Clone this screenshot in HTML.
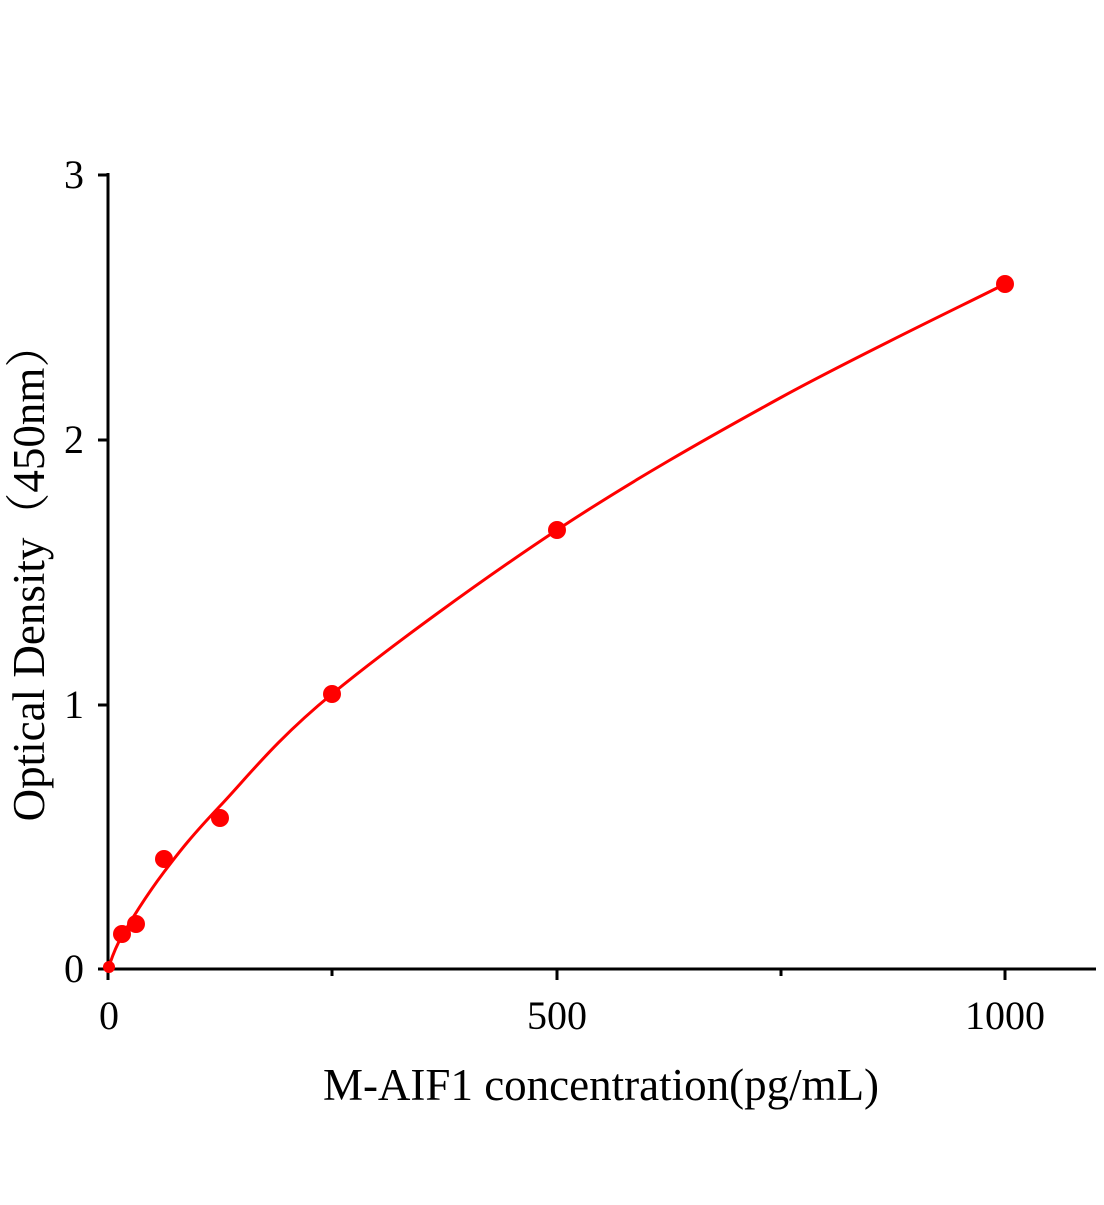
<!DOCTYPE html>
<html><head><style>
html,body{margin:0;padding:0;background:#fff;}
text{font-family:"Liberation Serif","Noto Serif CJK SC",serif;fill:#000;}
</style></head><body>
<svg id="s" width="1104" height="1200" viewBox="0 0 1104 1200" xmlns="http://www.w3.org/2000/svg">
<g stroke="#000" stroke-width="3" fill="none">
<line x1="108" y1="173" x2="108" y2="980"/>
<line x1="98" y1="969" x2="1096" y2="969"/>
<line x1="98" y1="175" x2="108" y2="175"/>
<line x1="98" y1="440" x2="108" y2="440"/>
<line x1="98" y1="705" x2="108" y2="705"/>
<line x1="557" y1="969" x2="557" y2="980"/>
<line x1="1005" y1="969" x2="1005" y2="980"/>
<line x1="332" y1="969" x2="332" y2="976"/>
<line x1="781" y1="969" x2="781" y2="976"/>
</g>
<g font-size="40" text-anchor="end">
<text x="84" y="188">3</text>
<text x="84" y="453">2</text>
<text x="84" y="718">1</text>
<text x="84" y="982">0</text>
</g>
<g font-size="40" text-anchor="middle">
<text x="109" y="1029">0</text>
<text x="557" y="1029">500</text>
<text x="1005" y="1029">1000</text>
</g>
<text x="601" y="1100" font-size="45" text-anchor="middle">M-AIF1 concentration(pg/mL)</text>
<text transform="translate(44,572) rotate(-90)" font-size="45" text-anchor="middle">Optical Density（450nm）</text>
<path id="c" fill="none" stroke="#f00" stroke-width="3"/>
<g fill="#f00">
<circle cx="109" cy="967" r="6"/>
<circle cx="122" cy="934" r="9"/>
<circle cx="136" cy="924" r="9"/>
<circle cx="164" cy="859" r="9"/>
<circle cx="220" cy="818" r="9"/>
<circle cx="332" cy="694" r="9"/>
<circle cx="557" cy="530" r="9"/>
<circle cx="1005" cy="284" r="9"/>
</g>
</svg>
<script>
var p=[[108,969],[122,936],[164,872],[220,806],[332,694],[557,530],[780,398],[1005,284]];
var d="M"+p[0][0]+","+p[0][1];
for(var i=0;i<p.length-1;i++){var a=p[i-1]||p[i],b=p[i],c=p[i+1],e=p[i+2]||c;
d+=" C"+(b[0]+(c[0]-a[0])/6)+","+(b[1]+(c[1]-a[1])/6)+" "+(c[0]-(e[0]-b[0])/6)+","+(c[1]-(e[1]-b[1])/6)+" "+c[0]+","+c[1];}
document.getElementById("c").setAttribute("d",d);
</script>
</body></html>
